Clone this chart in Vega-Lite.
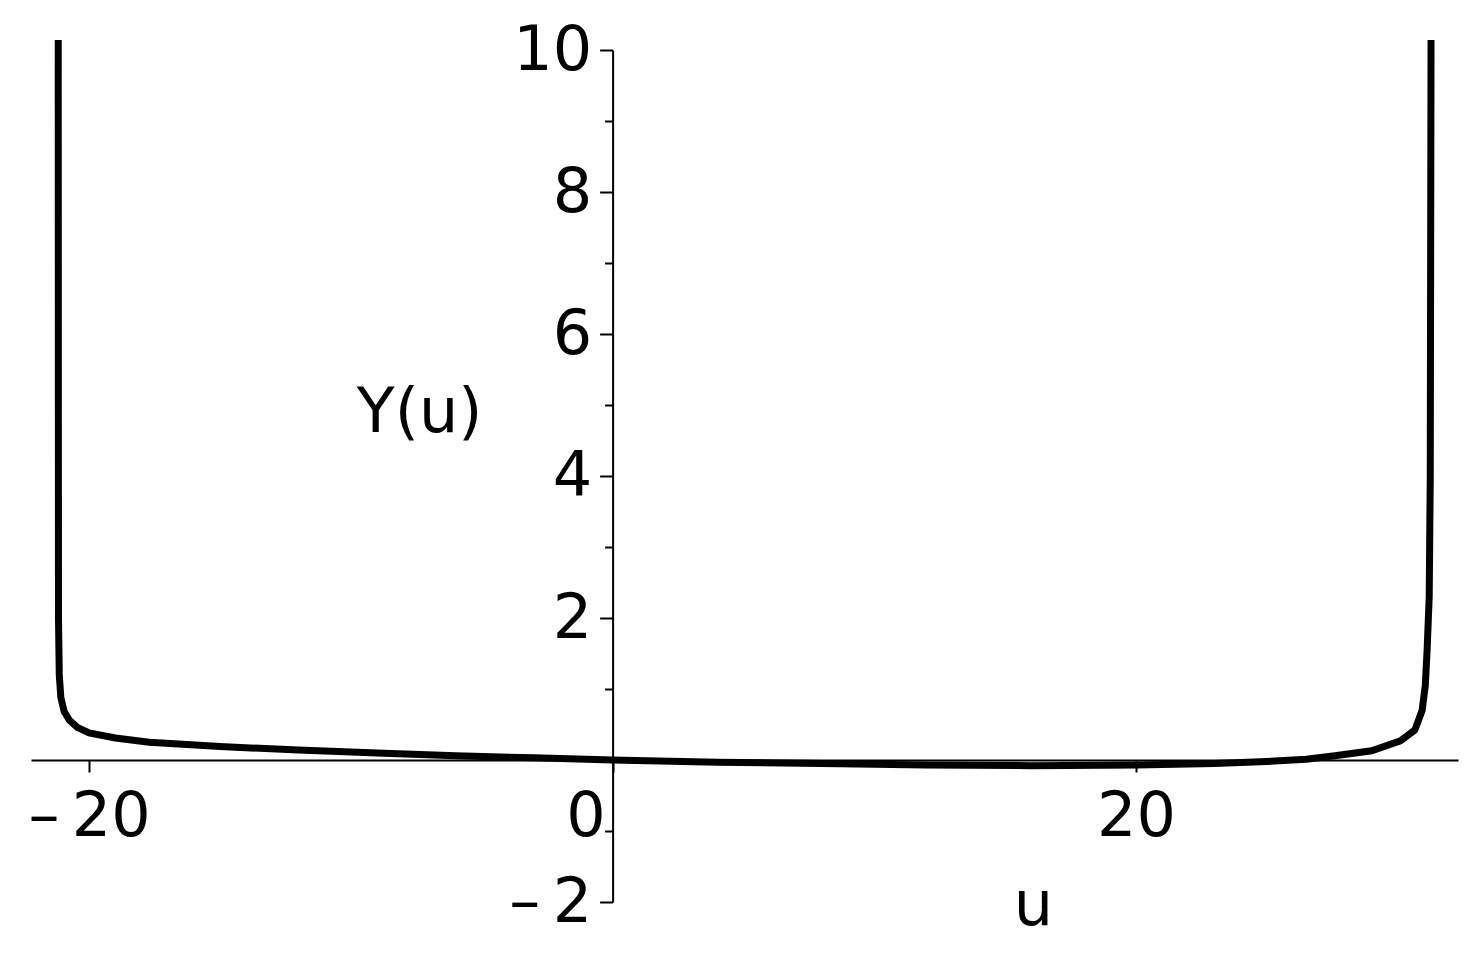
{
  "$schema": "https://vega.github.io/schema/vega-lite/v6.json",
  "width": 1427,
  "height": 852,
  "autosize": {"type": "none"},
  "padding": {"left": 31, "top": 50, "right": 23, "bottom": 57},
  "background": "white",
  "config": {
    "view": {"stroke": null},
    "axis": {
      "labelFont": "DejaVu Sans",
      "titleFont": "DejaVu Sans",
      "labelFontSize": 62,
      "titleFontSize": 62,
      "titleFontWeight": "normal",
      "labelColor": "black",
      "titleColor": "black",
      "domainColor": "black",
      "tickColor": "black",
      "domainWidth": 2,
      "tickWidth": 2,
      "grid": false
    }
  },
  "data": {
    "values": [
      {"u": -21.18, "Y": 10.14},
      {"u": -21.175, "Y": 5.0},
      {"u": -21.17, "Y": 2.0},
      {"u": -21.14, "Y": 1.2},
      {"u": -21.08, "Y": 0.88},
      {"u": -20.95, "Y": 0.68},
      {"u": -20.75, "Y": 0.56},
      {"u": -20.45, "Y": 0.46},
      {"u": -20.0, "Y": 0.38},
      {"u": -19.0, "Y": 0.31},
      {"u": -17.7, "Y": 0.25},
      {"u": -15.0, "Y": 0.19},
      {"u": -12.0, "Y": 0.14},
      {"u": -9.0, "Y": 0.1},
      {"u": -6.0, "Y": 0.06},
      {"u": -3.0, "Y": 0.03},
      {"u": 0.0, "Y": 0.0},
      {"u": 4.0, "Y": -0.03},
      {"u": 8.0, "Y": -0.05},
      {"u": 12.0, "Y": -0.07},
      {"u": 16.0, "Y": -0.08},
      {"u": 20.0, "Y": -0.07},
      {"u": 23.0, "Y": -0.05},
      {"u": 25.0, "Y": -0.02},
      {"u": 26.5, "Y": 0.01},
      {"u": 27.6, "Y": 0.06},
      {"u": 29.0, "Y": 0.13},
      {"u": 30.1, "Y": 0.27},
      {"u": 30.65, "Y": 0.42},
      {"u": 30.93, "Y": 0.7},
      {"u": 31.05, "Y": 1.05},
      {"u": 31.12, "Y": 1.55},
      {"u": 31.2, "Y": 2.3},
      {"u": 31.24, "Y": 4.0},
      {"u": 31.27, "Y": 10.14}
    ]
  },
  "layer": [
    {
      "mark": {"type": "line", "color": "black", "strokeWidth": 7, "clip": false, "strokeCap": "butt"},
      "encoding": {
        "x": {
          "field": "u",
          "type": "quantitative",
          "scale": {"domain": [-22.22, 32.3], "nice": false, "zero": false},
          "axis": {
            "orient": "bottom",
            "offset": -142,
            "values": [-20, 0, 20],
            "tickSize": 12,
            "labelPadding": 14,
            "labelExpr": "datum.value < 0 ? '\u2013\u2009' + format(-datum.value, 'd') : format(datum.value, 'd')",
            "labelOffset": {"condition": {"test": "datum.value === 0", "value": -27}, "value": 0},
            "labelFlush": false,
            "labelOverlap": false,
            "title": "u",
            "titleX": 1002,
            "titleY": 164,
            "titleAlign": "center",
            "titleBaseline": "alphabetic",
            "titleAngle": 0
          }
        },
        "y": {
          "field": "Y",
          "type": "quantitative",
          "scale": {"domain": [-2, 10], "nice": false, "zero": false},
          "axis": {
            "orient": "left",
            "offset": -581.6,
            "values": [-2, 2, 4, 6, 8, 10],
            "tickSize": 13,
            "labelPadding": 8,
            "labelExpr": "datum.value < 0 ? '\u2013\u2009' + format(-datum.value, 'd') : format(datum.value, 'd')",
            "labelOverlap": false,
            "labelFlush": false,
            "title": "Y(u)",
            "titleX": -193.5,
            "titleY": 381,
            "titleAlign": "center",
            "titleBaseline": "alphabetic",
            "titleAngle": 0
          }
        }
      }
    },
    {
      "mark": {"type": "point", "opacity": 0},
      "encoding": {
        "y": {
          "field": "Y",
          "type": "quantitative",
          "scale": {"domain": [-2, 10], "nice": false, "zero": false},
          "axis": {
            "orient": "left",
            "offset": -581.6,
            "values": [-1, 1, 3, 5, 7, 9],
            "tickSize": 8,
            "domain": false,
            "labels": false,
            "title": null
          }
        }
      }
    }
  ],
  "resolve": {"scale": {"y": "independent"}, "axis": {"y": "independent"}}
}
